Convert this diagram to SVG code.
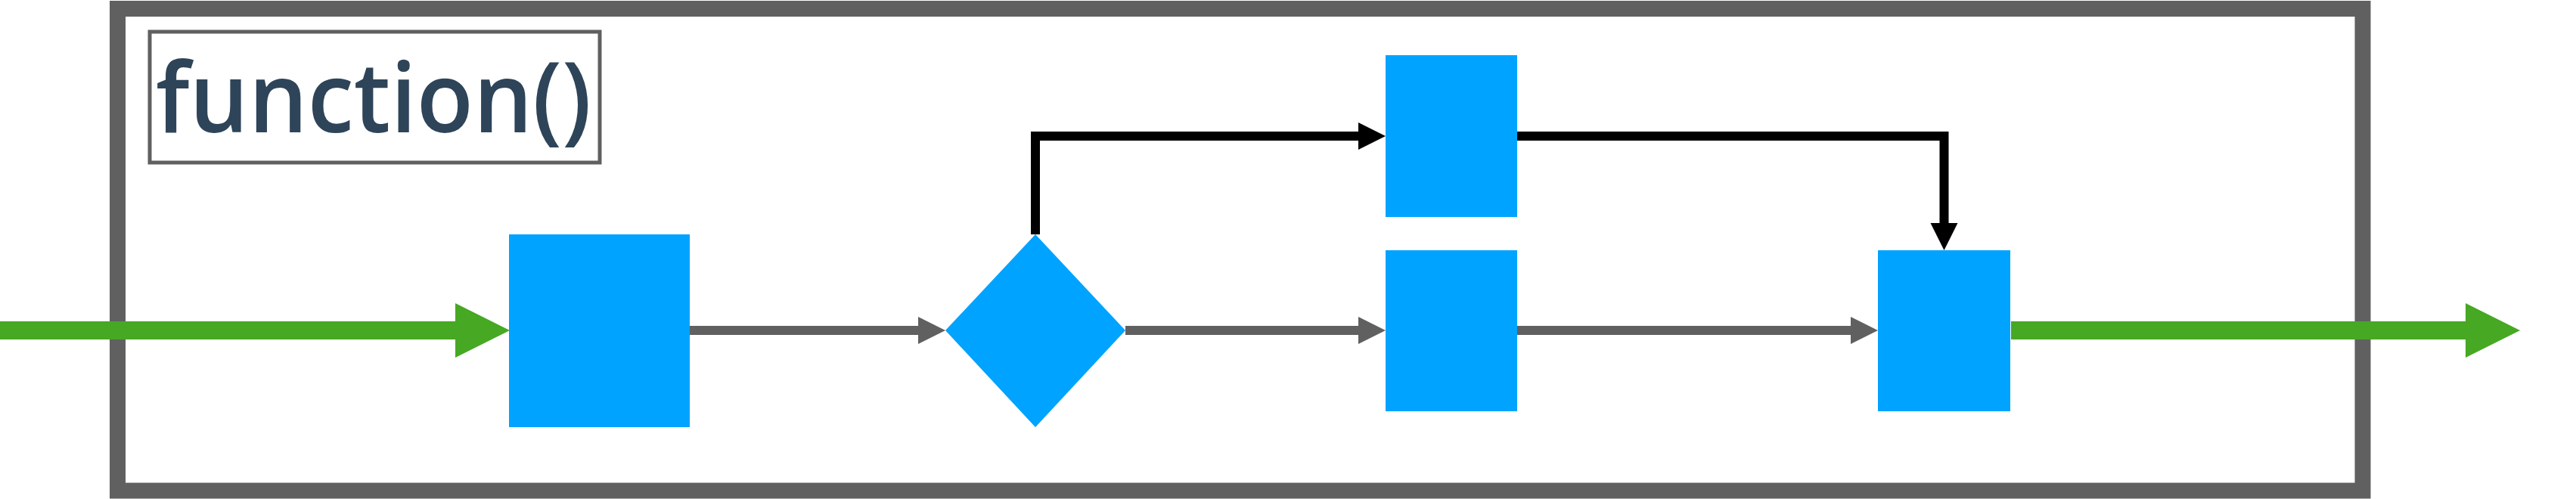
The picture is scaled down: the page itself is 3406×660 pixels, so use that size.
<svg xmlns="http://www.w3.org/2000/svg" width="3406" height="660" viewBox="0 0 3406 660">
<style>
.frame{fill:#FFFFFF;stroke:#606060;stroke-width:21}
.label{fill:#FFFFFF;stroke:#606060;stroke-width:5}
.node{fill:#00A3FF}
.ftext{font-family:"Open Sans","Noto Sans",sans-serif;font-size:128px;font-weight:600;fill:#2E4459}
.green{fill:none;stroke:#46A823;stroke-width:24}
.gray{fill:none;stroke:#606060;stroke-width:12}
.black{fill:none;stroke:#000000;stroke-width:12;stroke-linejoin:miter}
</style>
<defs>
<marker id="mGreen" markerUnits="userSpaceOnUse" markerWidth="72" markerHeight="72" refX="0" refY="36" orient="auto" overflow="visible">
<path d="M0,0 L72,36 L0,72 Z" fill="#46A823"/>
</marker>
<marker id="mGray" markerUnits="userSpaceOnUse" markerWidth="36" markerHeight="36" refX="0" refY="18" orient="auto" overflow="visible">
<path d="M0,0 L36,18 L0,36 Z" fill="#606060"/>
</marker>
<marker id="mBlack" markerUnits="userSpaceOnUse" markerWidth="36" markerHeight="36" refX="0" refY="18" orient="auto" overflow="visible">
<path d="M0,0 L36,18 L0,36 Z" fill="#000000"/>
</marker>
</defs>
<g id="function-frame">
<rect class="frame" x="155.5" y="11.5" width="2968.5" height="637.5"/>
</g>
<g id="function-label">
<rect class="label" x="198" y="42" width="595" height="173"/>
<text class="ftext" x="206" y="175" textLength="576" lengthAdjust="spacingAndGlyphs">function()</text>
</g>
<g id="node-a"><rect class="node" x="673" y="310" width="239" height="255"/></g>
<g id="node-decision"><polygon class="node" points="1250,437 1369,310 1488,437 1369,565"/></g>
<g id="node-b"><rect class="node" x="1832" y="73" width="174" height="214"/></g>
<g id="node-c"><rect class="node" x="1832" y="331" width="174" height="213"/></g>
<g id="node-d"><rect class="node" x="2483" y="331" width="175" height="213"/></g>
<g id="connectors">
<path class="green" d="M0,437 H602" marker-end="url(#mGreen)"/>
<path class="green" d="M2659,437 H3260" marker-end="url(#mGreen)"/>
<path class="gray" d="M912,437 H1214" marker-end="url(#mGray)"/>
<path class="gray" d="M1488,437 H1796" marker-end="url(#mGray)"/>
<path class="gray" d="M2006,437 H2447" marker-end="url(#mGray)"/>
<path class="black" d="M1369,310 V180 H1796" marker-end="url(#mBlack)"/>
<path class="black" d="M2006,180 H2570.5 V295" marker-end="url(#mBlack)"/>
</g>
</svg>
